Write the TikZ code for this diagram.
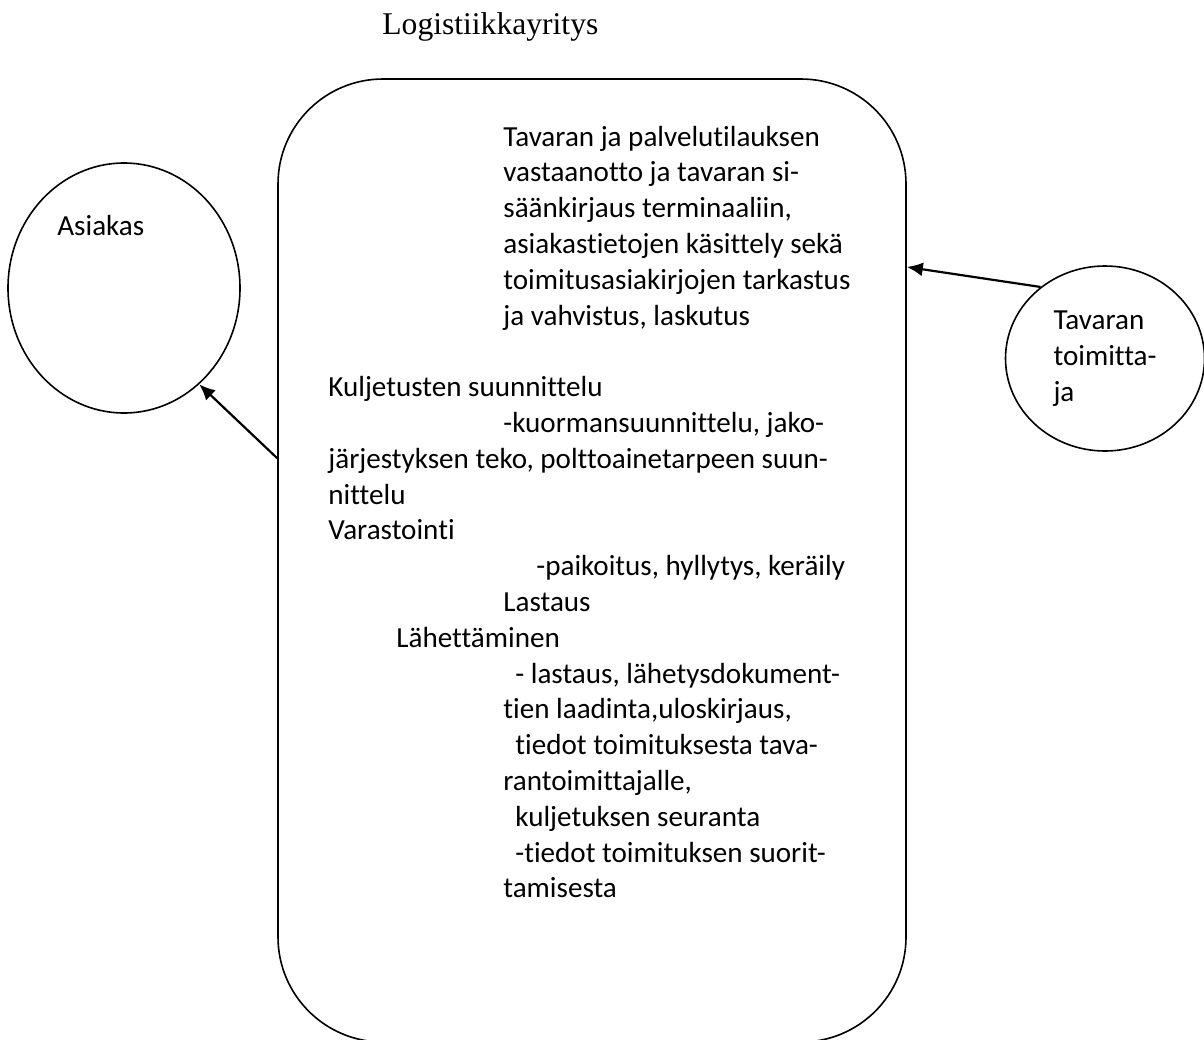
\documentclass[tikz,border=0pt]{standalone}
\usepackage{fontspec}
\setmainfont{Carlito}[Ligatures={NoCommon,NoContextual}]
\newfontfamily\otsikkofont{Liberation Serif}
\newcommand{\tekstifont}{\fontsize{14.55pt}{17.9pt}\selectfont}
\usetikzlibrary{arrows.meta,shapes.geometric}

\tikzset{
  osapuoli/.style={draw,shape=ellipse,line width=0.8pt,inner sep=0pt},
  rivi/.style={anchor=base west,inner sep=0pt,font=\tekstifont},
  virta/.style={draw,line width=1.1pt,-{Latex[length=8pt,width=7pt]}}
}

\begin{document}
\begin{tikzpicture}[x=0.5pt,y=-0.5pt]
\useasboundingbox (0,0) rectangle (1204,1039);
\clip (0,0) rectangle (1204,1039);

\path (382,34) node[anchor=base west,inner sep=0pt,font=\otsikkofont\fontsize{15.8pt}{19pt}\selectfont] (otsikko) {Logistiikkayritys};

\path (592,560.5) node[draw,rectangle,rounded corners=52.5pt,line width=0.8pt,minimum width=314pt,minimum height=481.5pt] (yritys) {};
\path (124,288)   node[osapuoli,minimum width=116pt,minimum height=125pt] (asiakas) {};
\path (1105,358.5) node[osapuoli,minimum width=99.5pt,minimum height=92.5pt,align=left,font=\tekstifont] (toimittaja) {Tavaran\\toimitta-\\ja};
\path (57,235) node[rivi] (asiakasnimi) {Asiakas};

% tehtavat laatikon sisalla
\path (503,146)   node[rivi] (r1)  {Tavaran ja palvelutilauksen};
\path (503,181.8) node[rivi] (r2)  {vastaanotto ja tavaran si-};
\path (503,217.6) node[rivi] (r3)  {säänkirjaus terminaaliin,};
\path (503,253.4) node[rivi] (r4)  {asiakastietojen käsittely sekä};
\path (503,289.2) node[rivi] (r5)  {toimitusasiakirjojen tarkastus};
\path (503,325)   node[rivi] (r6)  {ja vahvistus, laskutus};

\path (328,396.6) node[rivi] (r8)  {Kuljetusten suunnittelu};
\path (503,432.4) node[rivi] (r9)  {-kuormansuunnittelu, jako-};
\path (328,468.2) node[rivi] (r10) {järjestyksen teko, polttoainetarpeen suun-};
\path (328,504)   node[rivi] (r11) {nittelu};
\path (328,539.8) node[rivi] (r12) {Varastointi};
\path (536,575.6) node[rivi] (r13) {-paikoitus, hyllytys, keräily};
\path (503,611.4) node[rivi] (r14) {Lastaus};
\path (396,647.2) node[rivi] (r15) {Lähettäminen};
\path (515,683)   node[rivi] (r16) {- lastaus, lähetysdokument-};
\path (503,718.8) node[rivi] (r17) {tien laadinta,uloskirjaus,};
\path (515,754.6) node[rivi] (r18) {tiedot toimituksesta tava-};
\path (503,790.4) node[rivi] (r19) {rantoimittajalle,};
\path (515,826.2) node[rivi] (r20) {kuljetuksen seuranta};
\path (515,862)   node[rivi] (r21) {-tiedot toimituksen suorit-};
\path (503,897.8) node[rivi] (r22) {tamisesta};

\draw[virta] (toimittaja.132.8) -- (yritys.43);
\draw[virta] (yritys.162.75) -- (asiakas.-52.66);
\end{tikzpicture}
\end{document}
